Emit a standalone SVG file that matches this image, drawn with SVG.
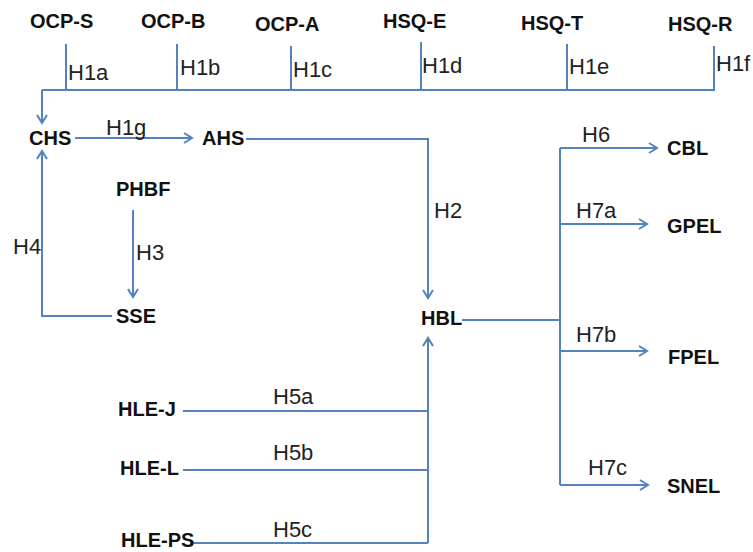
<svg xmlns="http://www.w3.org/2000/svg" width="753" height="552" viewBox="0 0 753 552">
<style>
.n{font-family:"Liberation Sans",Arial,sans-serif;font-weight:bold;font-size:20px;fill:#111}
.l{font-family:"Liberation Sans",Arial,sans-serif;font-size:22px;fill:#222}
.c{fill:none;stroke:#5482C0;stroke-width:2}
</style>
<defs>
<marker id="a" markerUnits="userSpaceOnUse" markerWidth="14" markerHeight="14" viewBox="0 0 14 14" refX="11" refY="7" orient="auto">
<path d="M3,2 L11,7 L3,12" fill="none" stroke="#5482C0" stroke-width="2"/>
</marker>
</defs>
<rect width="753" height="552" fill="#fff"/>
<g id="connectors">
<path class="c" d="M42,90 H715"/>
<path class="c" d="M66,44 V90"/>
<path class="c" d="M177,44 V90"/>
<path class="c" d="M291,46 V90"/>
<path class="c" d="M421,42 V90"/>
<path class="c" d="M567,44 V90"/>
<path class="c" d="M714,46 V90"/>
<path class="c" d="M42,90 V123" marker-end="url(#a)"/>
<path class="c" d="M75,138 H192" marker-end="url(#a)"/>
<path class="c" d="M246,139 H428 V298" marker-end="url(#a)"/>
<path class="c" d="M133,210 V297" marker-end="url(#a)"/>
<path class="c" d="M112,316 H42 V151" marker-end="url(#a)"/>
<path class="c" d="M462,320 H560"/>
<path class="c" d="M560,148 V485"/>
<path class="c" d="M560,148 H657" marker-end="url(#a)"/>
<path class="c" d="M560,224 H647" marker-end="url(#a)"/>
<path class="c" d="M560,351 H647" marker-end="url(#a)"/>
<path class="c" d="M560,485 H648" marker-end="url(#a)"/>
<path class="c" d="M428,543 V338" marker-end="url(#a)"/>
<path class="c" d="M183,411 H428"/>
<path class="c" d="M183,470 H428"/>
<path class="c" d="M190,543 H428"/>
</g>
<g id="labels">
<text class="l" x="68" y="80">H1a</text>
<text class="l" x="180" y="75">H1b</text>
<text class="l" x="293" y="77">H1c</text>
<text class="l" x="422" y="73">H1d</text>
<text class="l" x="569" y="74">H1e</text>
<text class="l" x="716" y="71">H1f</text>
<text class="l" x="106" y="135">H1g</text>
<text class="l" x="434" y="218">H2</text>
<text class="l" x="136" y="260">H3</text>
<text class="l" x="13" y="254">H4</text>
<text class="l" x="273" y="404">H5a</text>
<text class="l" x="273" y="460">H5b</text>
<text class="l" x="273" y="537">H5c</text>
<text class="l" x="582" y="142">H6</text>
<text class="l" x="576" y="218">H7a</text>
<text class="l" x="576" y="342">H7b</text>
<text class="l" x="588" y="475">H7c</text>
</g>
<g id="OCP-S"><text class="n" x="30" y="28">OCP-S</text></g>
<g id="OCP-B"><text class="n" x="141" y="28">OCP-B</text></g>
<g id="OCP-A"><text class="n" x="255" y="31">OCP-A</text></g>
<g id="HSQ-E"><text class="n" x="383" y="28">HSQ-E</text></g>
<g id="HSQ-T"><text class="n" x="521" y="30">HSQ-T</text></g>
<g id="HSQ-R"><text class="n" x="668" y="31">HSQ-R</text></g>
<g id="CHS"><text class="n" x="29" y="145">CHS</text></g>
<g id="AHS"><text class="n" x="202" y="145">AHS</text></g>
<g id="PHBF"><text class="n" x="116" y="196">PHBF</text></g>
<g id="SSE"><text class="n" x="116" y="323">SSE</text></g>
<g id="HBL"><text class="n" x="421" y="325">HBL</text></g>
<g id="CBL"><text class="n" x="667" y="155">CBL</text></g>
<g id="GPEL"><text class="n" x="667" y="233">GPEL</text></g>
<g id="FPEL"><text class="n" x="668" y="364">FPEL</text></g>
<g id="SNEL"><text class="n" x="667" y="493">SNEL</text></g>
<g id="HLE-J"><text class="n" x="118" y="416">HLE-J</text></g>
<g id="HLE-L"><text class="n" x="120" y="475">HLE-L</text></g>
<g id="HLE-PS"><text class="n" x="121" y="547">HLE-PS</text></g>
</svg>
